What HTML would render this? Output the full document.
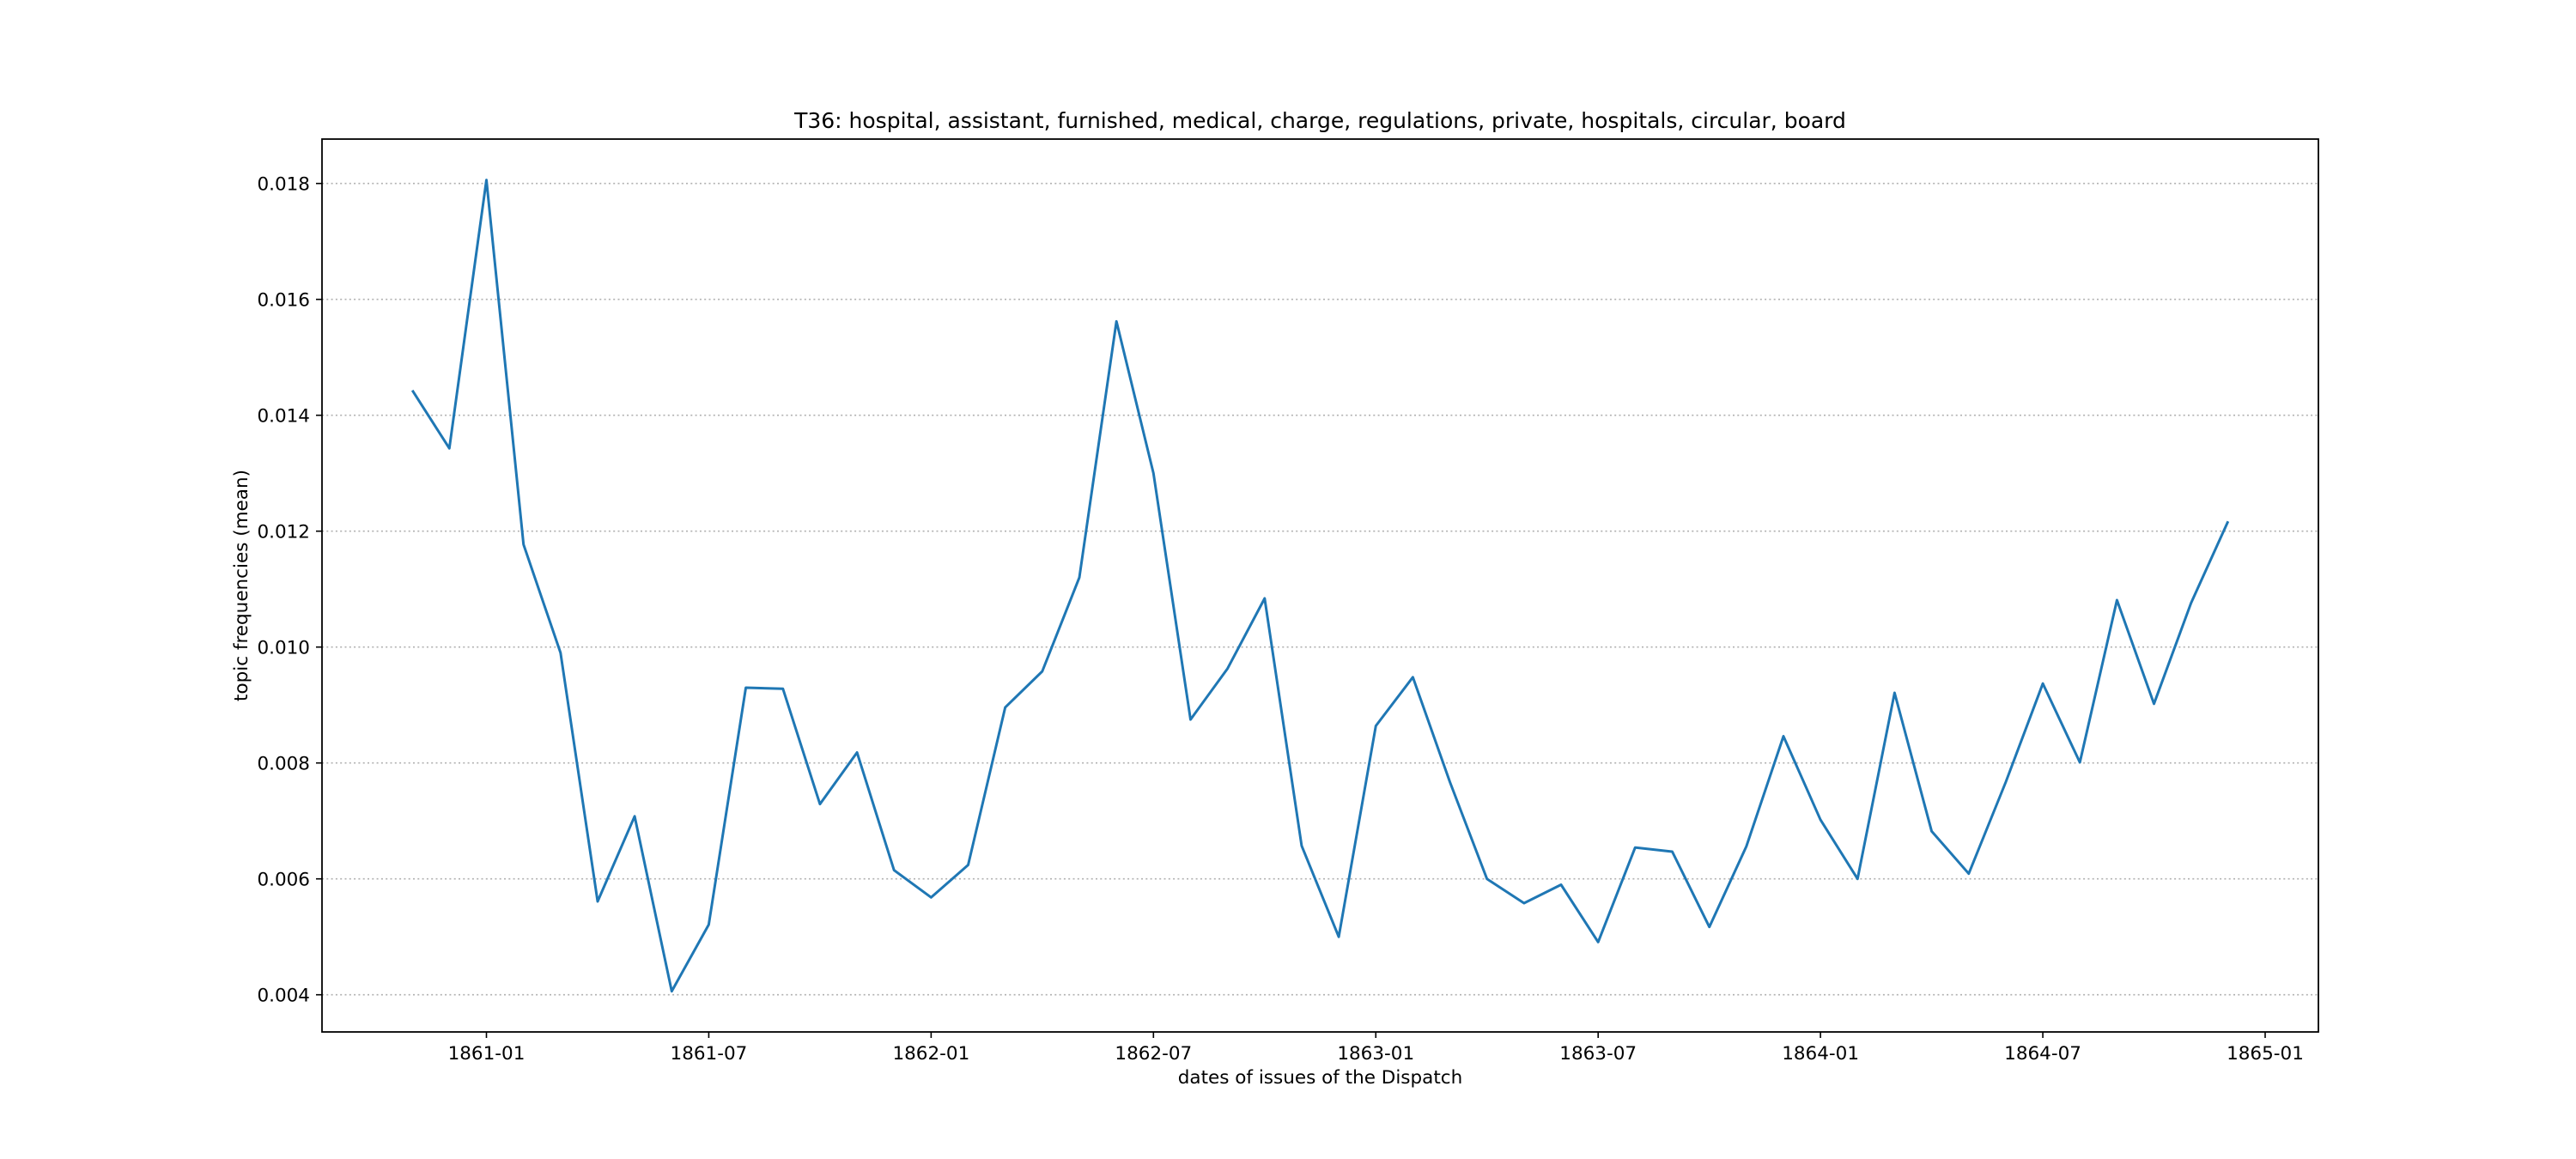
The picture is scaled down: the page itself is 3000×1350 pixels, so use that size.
<!DOCTYPE html>
<html><head><meta charset="utf-8"><style>
html,body{margin:0;padding:0;background:#fff;}
svg{display:block;font-family:"DejaVu Sans","Liberation Sans",sans-serif;}
</style></head><body>
<svg id="chart" width="3000" height="1350" viewBox="0 0 3000 1350" xmlns="http://www.w3.org/2000/svg">
<rect width="3000" height="1350" fill="#fff"/>
<g id="grid"></g>
<g id="plot"></g>
<g id="axes"></g>
</svg>
<script>
const startMonth = 1860*12 + 10; // 1860-11
const values = [0.01443,0.01343,0.01806,0.01177,0.00990,0.00561,0.00708,0.00406,0.00521,0.00930,0.00928,0.00729,0.00818,0.00615,
0.00568,0.00624,0.00896,0.00958,0.01120,0.01562,0.01300,0.00875,0.00963,0.01084,0.00657,0.00500,
0.00864,0.00948,0.00767,0.00600,0.00558,0.00590,0.00491,0.00654,0.00647,0.00517,0.00656,0.00846,
0.00702,0.00600,0.00921,0.00682,0.00609,0.00767,0.00937,0.00801,0.01081,0.00902,0.01076,0.01217];
const yTicks = [0.004,0.006,0.008,0.010,0.012,0.014,0.016,0.018];
const xTickLabels = ["1861-01","1861-07","1862-01","1862-07","1863-01","1863-07","1864-01","1864-07","1865-01"];

const L=375,R=2700,T=162,B=1202;
const NS="http://www.w3.org/2000/svg";
const x0m=1861*12, x1m=1865*12, px0=566.5, px1=2638;
function xs(m){return px0+(m-x0m)*(px1-px0)/(x1m-x0m);}
function ys(v){return 213.7+(0.018-v)*(135/0.002);}
function mk(tag,attrs,parent){const e=document.createElementNS(NS,tag);for(const k in attrs)e.setAttribute(k,attrs[k]);parent.appendChild(e);return e;}
const grid=document.getElementById('grid'),plot=document.getElementById('plot'),axes=document.getElementById('axes');

yTicks.forEach(v=>{
  const y=ys(v);
  const g=mk('line',{x1:L,x2:R,y1:y,y2:y,stroke:'#b0b0b0','stroke-width':1.6,'stroke-dasharray':'2,3.3'},grid);
  
  
  const t=mk('line',{x1:L-7,x2:L,y1:y,y2:y,stroke:'#000','stroke-width':1.6},axes);
  
  
  const tx=mk('text',{x:L-14,y:y+8,'text-anchor':'end','font-size':21.5,fill:'#000'},axes);
  tx.textContent=v.toFixed(3);
  
  
});
xTickLabels.forEach(s=>{
  const [yy,mm]=s.split('-').map(Number);
  const x=xs(yy*12+mm-1);
  const t=mk('line',{x1:x,x2:x,y1:B,y2:B+7,stroke:'#000','stroke-width':1.6},axes);
  
  
  const tx=mk('text',{x:x,y:B+32,'text-anchor':'middle','font-size':21.5,fill:'#000'},axes);
  tx.textContent=s;
  
  
});
const pts=values.map((v,i)=>xs(startMonth+i).toFixed(1)+','+ys(v).toFixed(1)).join(' ');
const line=mk('polyline',{points:pts,fill:'none',stroke:'#1f77b4','stroke-width':3,'stroke-linejoin':'round'},plot);


const fr=mk('rect',{x:L,y:T,width:R-L,height:B-T,fill:'none',stroke:'#000','stroke-width':1.8},axes);


const ti=mk('text',{x:(L+R)/2,y:T-13,'text-anchor':'middle','font-size':25,fill:'#000'},axes);
ti.textContent='T36: hospital, assistant, furnished, medical, charge, regulations, private, hospitals, circular, board';


const xl=mk('text',{x:(L+R)/2,y:B+60,'text-anchor':'middle','font-size':21.5,fill:'#000'},axes);
xl.textContent='dates of issues of the Dispatch';


const yl=mk('text',{x:0,y:0,'text-anchor':'middle','font-size':21.5,fill:'#000',transform:'translate(288,'+((T+B)/2)+') rotate(-90)'},axes);
yl.textContent='topic frequencies (mean)';


</script>
</body></html>
